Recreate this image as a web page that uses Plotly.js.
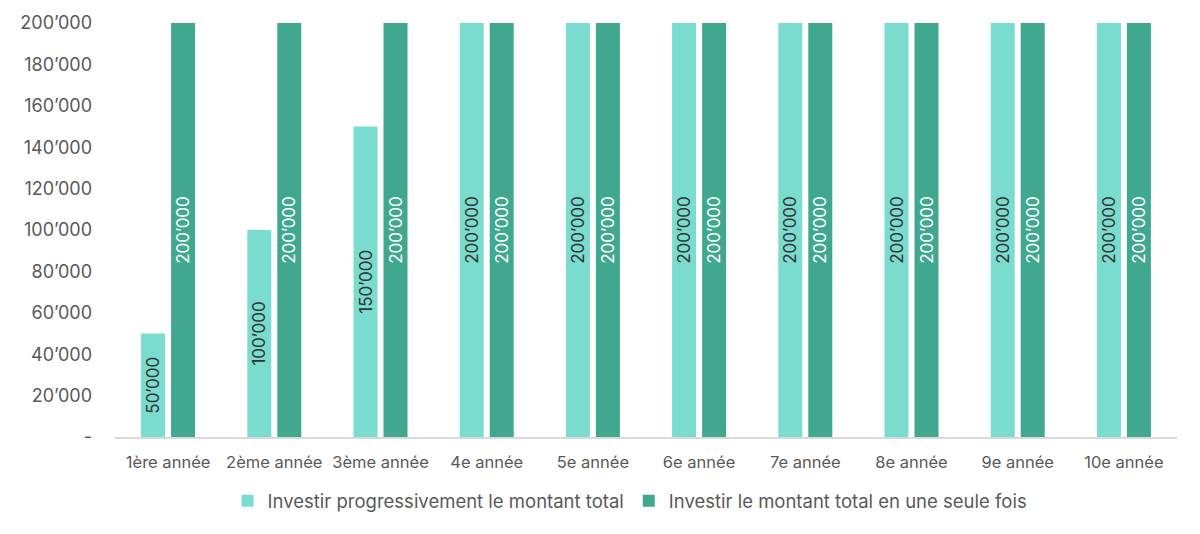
<!DOCTYPE html>
<html>
<head>
<meta charset="utf-8">
<script src="https://cdn.plot.ly/plotly-3.0.1.min.js"></script>
<style>html,body{margin:0;padding:0;background:#fff;}#chart{width:1200px;height:534px;}</style>
</head>
<body>
<div id="chart"></div>
<script>
const categories = ["1ère année","2ème année","3ème année","4e année","5e année","6e année","7e année","8e année","9e année","10e année"];
const progressive = [50000,100000,150000,200000,200000,200000,200000,200000,200000,200000];
const lumpSum = [200000,200000,200000,200000,200000,200000,200000,200000,200000,200000];
const seriesNames = ["Investir progressivement le montant total","Investir le montant total en une seule fois"];
const yTickVals = [0,20000,40000,60000,80000,100000,120000,140000,160000,180000,200000];
const yTickText = ["-","20’000","40’000","60’000","80’000","100’000","120’000","140’000","160’000","180’000","200’000"];

function fmt(v){ return String(v).replace(/\B(?=(\d{3})+(?!\d))/g, "’"); }

const font = "Inter, 'Noto Sans', sans-serif";
const traces = [
  {type:"bar", name:seriesNames[0], x:categories, y:progressive,
   marker:{color:"#7ADCCF"}, text:progressive.map(fmt), textposition:"inside",
   insidetextanchor:"middle", textangle:-90, constraintext:"none",
   textfont:{family:font, size:17, color:"#333333"}, hoverinfo:"x+y"},
  {type:"bar", name:seriesNames[1], x:categories, y:lumpSum,
   marker:{color:"#40A88F"}, text:lumpSum.map(fmt), textposition:"inside",
   insidetextanchor:"middle", textangle:-90, constraintext:"none",
   textfont:{family:font, size:17, color:"#ffffff"}, hoverinfo:"x+y"}
];
const layout = {
  width:1200, height:534,
  margin:{l:115, r:23, t:23, b:97},
  paper_bgcolor:"#ffffff", plot_bgcolor:"#ffffff",
  barmode:"group", bargap:0.435, bargroupgap:0.2,
  font:{family:font, color:"#595959"},
  xaxis:{type:"category", showgrid:false, showline:true, linecolor:"#d9d9d9", linewidth:2,
         ticks:"", tickfont:{family:font, size:16.5, color:"#595959"}, ticklabelstandoff:9, zeroline:false},
  yaxis:{range:[0,200000], tickvals:yTickVals, ticktext:yTickText, showgrid:false, zeroline:false,
         showline:false, ticks:"", tickfont:{family:font, size:18, color:"#595959"}, ticklabelstandoff:22},
  showlegend:true,
  legend:{orientation:"h", x:0.485, xanchor:"center", y:-0.155, yanchor:"middle",
          font:{family:font, size:18.5, color:"#595959"}, itemwidth:30, tracegroupgap:0}
};
Plotly.newPlot("chart", traces, layout, {displayModeBar:false, staticPlot:true});
</script>
</body>
</html>
